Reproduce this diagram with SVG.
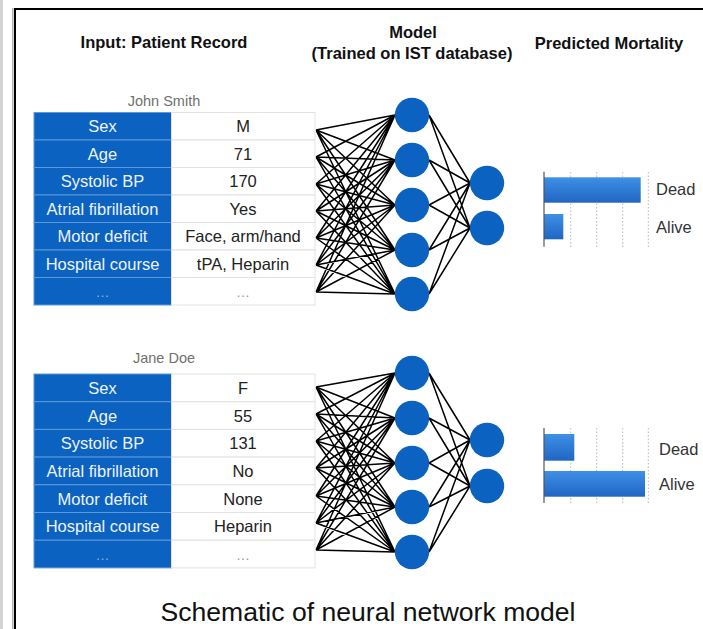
<svg xmlns="http://www.w3.org/2000/svg" width="703" height="629" viewBox="0 0 703 629">
<style>
.hd{font-family:"Liberation Sans",Arial,sans-serif;font-weight:bold;font-size:16.5px;fill:#111;text-anchor:middle}
.nm{font-family:"Liberation Sans",Arial,sans-serif;font-size:14.5px;fill:#707070;text-anchor:middle}
.lb{font-family:"Liberation Sans",Arial,sans-serif;font-size:16.5px;fill:#eef4ff;text-anchor:middle}
.vl{font-family:"Liberation Sans",Arial,sans-serif;font-size:16.5px;fill:#222;text-anchor:middle}
.dl{font-family:"Liberation Sans",Arial,sans-serif;font-size:14px;fill:#8db4e8;text-anchor:middle}
.dv{font-family:"Liberation Sans",Arial,sans-serif;font-size:14px;fill:#999;text-anchor:middle}
.bl{font-family:"Liberation Sans",Arial,sans-serif;font-size:16.5px;fill:#333}
.cap{font-family:"Liberation Sans",Arial,sans-serif;font-size:25px;fill:#111;text-anchor:middle}
.bc{fill:#0b62c0;stroke:#5c98da;stroke-width:1}
.wc{fill:#fff;stroke:#e2e2e2;stroke-width:1}
.nd{fill:#0b62c0}
.cn{fill:none;stroke:#000;stroke-width:1.5}
.grid{stroke:#b8b8b8;stroke-width:1;stroke-dasharray:1.5 2}
.axis{stroke:#555;stroke-width:1.2}
.bar{fill:url(#bg)}
</style>
<defs>
<linearGradient id="bg" x1="0" y1="0" x2="0" y2="1">
<stop offset="0" stop-color="#3f90e6"/>
<stop offset="1" stop-color="#1f66c3"/>
</linearGradient>
</defs>
<rect width="703" height="629" fill="#fff"/>
<g id="frame">
<rect x="0" y="0" width="3" height="629" fill="#d4d4d4"/>
<rect x="12" y="8" width="1.5" height="621" fill="#b0b0b0"/>
<rect x="14" y="8" width="2" height="621" fill="#000"/>
<rect x="14" y="8" width="689" height="2" fill="#000"/>
</g>
<g id="headers">
<text class="hd" x="164" y="48">Input: Patient Record</text>
<text class="hd" x="413" y="38">Model</text>
<text class="hd" x="412" y="59">(Trained on IST database)</text>
<text class="hd" x="609" y="49">Predicted Mortality</text>
</g>
<g id="connectors">
<path class="cn" d="M316 130L395 115M316 130L395 160M316 130L395 205M316 130L395 250M316 130L395 294M316 157L395 115M316 157L395 160M316 157L395 205M316 157L395 250M316 157L395 294M316 184L395 115M316 184L395 160M316 184L395 205M316 184L395 250M316 184L395 294M316 211L395 115M316 211L395 160M316 211L395 205M316 211L395 250M316 211L395 294M316 238L395 115M316 238L395 160M316 238L395 205M316 238L395 250M316 238L395 294M316 265L395 115M316 265L395 160M316 265L395 205M316 265L395 250M316 265L395 294M316 292L395 115M316 292L395 160M316 292L395 205M316 292L395 250M316 292L395 294"/>
<path class="cn" d="M429 115L470 183M429 115L470 228M429 160L470 183M429 160L470 228M429 205L470 183M429 205L470 228M429 250L470 183M429 250L470 228M429 294L470 183M429 294L470 228"/>
<path class="cn" d="M316 387L395 373M316 387L395 418M316 387L395 463M316 387L395 507M316 387L395 552M316 414L395 373M316 414L395 418M316 414L395 463M316 414L395 507M316 414L395 552M316 441L395 373M316 441L395 418M316 441L395 463M316 441L395 507M316 441L395 552M316 468L395 373M316 468L395 418M316 468L395 463M316 468L395 507M316 468L395 552M316 496L395 373M316 496L395 418M316 496L395 463M316 496L395 507M316 496L395 552M316 523L395 373M316 523L395 418M316 523L395 463M316 523L395 507M316 523L395 552M316 550L395 373M316 550L395 418M316 550L395 463M316 550L395 507M316 550L395 552"/>
<path class="cn" d="M429 373L470 440M429 373L470 486M429 418L470 440M429 418L470 486M429 463L470 440M429 463L470 486M429 507L470 440M429 507L470 486M429 552L470 440M429 552L470 486"/>
</g>
<g id="record1">
<text class="nm" x="164" y="106">John Smith</text>
<rect class="bc" x="34" y="112.5" width="137.5" height="27.5"/><rect class="wc" x="171.5" y="112.5" width="143.5" height="27.5"/>
<rect class="bc" x="34" y="140" width="137.5" height="27.5"/><rect class="wc" x="171.5" y="140" width="143.5" height="27.5"/>
<rect class="bc" x="34" y="167.5" width="137.5" height="27.5"/><rect class="wc" x="171.5" y="167.5" width="143.5" height="27.5"/>
<rect class="bc" x="34" y="195" width="137.5" height="27.5"/><rect class="wc" x="171.5" y="195" width="143.5" height="27.5"/>
<rect class="bc" x="34" y="222.5" width="137.5" height="27.5"/><rect class="wc" x="171.5" y="222.5" width="143.5" height="27.5"/>
<rect class="bc" x="34" y="250" width="137.5" height="27.5"/><rect class="wc" x="171.5" y="250" width="143.5" height="27.5"/>
<rect class="bc" x="34" y="277.5" width="137.5" height="27.5"/><rect class="wc" x="171.5" y="277.5" width="143.5" height="27.5"/>
<text class="lb" x="102.5" y="132">Sex</text><text class="vl" x="243" y="132">M</text>
<text class="lb" x="102.5" y="160">Age</text><text class="vl" x="243" y="160">71</text>
<text class="lb" x="102.5" y="187">Systolic BP</text><text class="vl" x="243" y="187">170</text>
<text class="lb" x="102.5" y="215">Atrial fibrillation</text><text class="vl" x="243" y="215">Yes</text>
<text class="lb" x="102.5" y="242">Motor deficit</text><text class="vl" x="243" y="242">Face, arm/hand</text>
<text class="lb" x="102.5" y="270">Hospital course</text><text class="vl" x="243" y="270">tPA, Heparin</text>
<text class="dl" x="102.5" y="297">…</text><text class="dv" x="243" y="297">…</text>
</g>
<g id="record2">
<text class="nm" x="164" y="363">Jane Doe</text>
<rect class="bc" x="34" y="374" width="137.5" height="27.7"/><rect class="wc" x="171.5" y="374" width="143.5" height="27.7"/>
<rect class="bc" x="34" y="401.7" width="137.5" height="27.7"/><rect class="wc" x="171.5" y="401.7" width="143.5" height="27.7"/>
<rect class="bc" x="34" y="429.4" width="137.5" height="27.7"/><rect class="wc" x="171.5" y="429.4" width="143.5" height="27.7"/>
<rect class="bc" x="34" y="457.1" width="137.5" height="27.7"/><rect class="wc" x="171.5" y="457.1" width="143.5" height="27.7"/>
<rect class="bc" x="34" y="484.8" width="137.5" height="27.7"/><rect class="wc" x="171.5" y="484.8" width="143.5" height="27.7"/>
<rect class="bc" x="34" y="512.5" width="137.5" height="27.7"/><rect class="wc" x="171.5" y="512.5" width="143.5" height="27.7"/>
<rect class="bc" x="34" y="540.2" width="137.5" height="27.7"/><rect class="wc" x="171.5" y="540.2" width="143.5" height="27.7"/>
<text class="lb" x="102.5" y="394">Sex</text><text class="vl" x="243" y="394">F</text>
<text class="lb" x="102.5" y="421.5">Age</text><text class="vl" x="243" y="421.5">55</text>
<text class="lb" x="102.5" y="449">Systolic BP</text><text class="vl" x="243" y="449">131</text>
<text class="lb" x="102.5" y="477">Atrial fibrillation</text><text class="vl" x="243" y="477">No</text>
<text class="lb" x="102.5" y="504.5">Motor deficit</text><text class="vl" x="243" y="504.5">None</text>
<text class="lb" x="102.5" y="532">Hospital course</text><text class="vl" x="243" y="532">Heparin</text>
<text class="dl" x="102.5" y="560">…</text><text class="dv" x="243" y="560">…</text>
</g>
<g id="net1-h1"><circle class="nd" cx="412" cy="115" r="17.2"/></g>
<g id="net1-h2"><circle class="nd" cx="412" cy="160" r="17.2"/></g>
<g id="net1-h3"><circle class="nd" cx="412" cy="205" r="17.2"/></g>
<g id="net1-h4"><circle class="nd" cx="412" cy="250" r="17.2"/></g>
<g id="net1-h5"><circle class="nd" cx="412" cy="294" r="17.2"/></g>
<g id="net1-o1"><circle class="nd" cx="487" cy="183" r="17.2"/></g>
<g id="net1-o2"><circle class="nd" cx="487" cy="228" r="17.2"/></g>
<g id="net2-h1"><circle class="nd" cx="412" cy="373" r="17.2"/></g>
<g id="net2-h2"><circle class="nd" cx="412" cy="418" r="17.2"/></g>
<g id="net2-h3"><circle class="nd" cx="412" cy="463" r="17.2"/></g>
<g id="net2-h4"><circle class="nd" cx="412" cy="507" r="17.2"/></g>
<g id="net2-h5"><circle class="nd" cx="412" cy="552" r="17.2"/></g>
<g id="net2-o1"><circle class="nd" cx="487" cy="440" r="17.2"/></g>
<g id="net2-o2"><circle class="nd" cx="487" cy="486" r="17.2"/></g>
<g id="chart1">
<line class="grid" x1="570.7" y1="172" x2="570.7" y2="247"/>
<line class="grid" x1="596.7" y1="172" x2="596.7" y2="247"/>
<line class="grid" x1="622.7" y1="172" x2="622.7" y2="247"/>
<line class="grid" x1="648.3" y1="172" x2="648.3" y2="247"/>
<rect class="bar" x="544" y="177.3" width="96.7" height="25.4"/>
<rect class="bar" x="544" y="214" width="19.3" height="25.3"/>
<line class="axis" x1="544" y1="171.7" x2="544" y2="246.7"/>
<text class="bl" x="656" y="195">Dead</text>
<text class="bl" x="656" y="233">Alive</text>
</g>
<g id="chart2">
<line class="grid" x1="570.7" y1="428" x2="570.7" y2="503"/>
<line class="grid" x1="596.7" y1="428" x2="596.7" y2="503"/>
<line class="grid" x1="622.7" y1="428" x2="622.7" y2="503"/>
<line class="grid" x1="648.3" y1="428" x2="648.3" y2="503"/>
<rect class="bar" x="544" y="434" width="30.3" height="26.7"/>
<rect class="bar" x="544" y="471" width="101" height="25.7"/>
<line class="axis" x1="544" y1="428" x2="544" y2="503"/>
<text class="bl" x="659" y="455">Dead</text>
<text class="bl" x="659" y="490">Alive</text>
</g>
<g id="caption">
<text class="cap" x="368" y="621" textLength="415" lengthAdjust="spacingAndGlyphs">Schematic of neural network model</text>
</g>
</svg>
